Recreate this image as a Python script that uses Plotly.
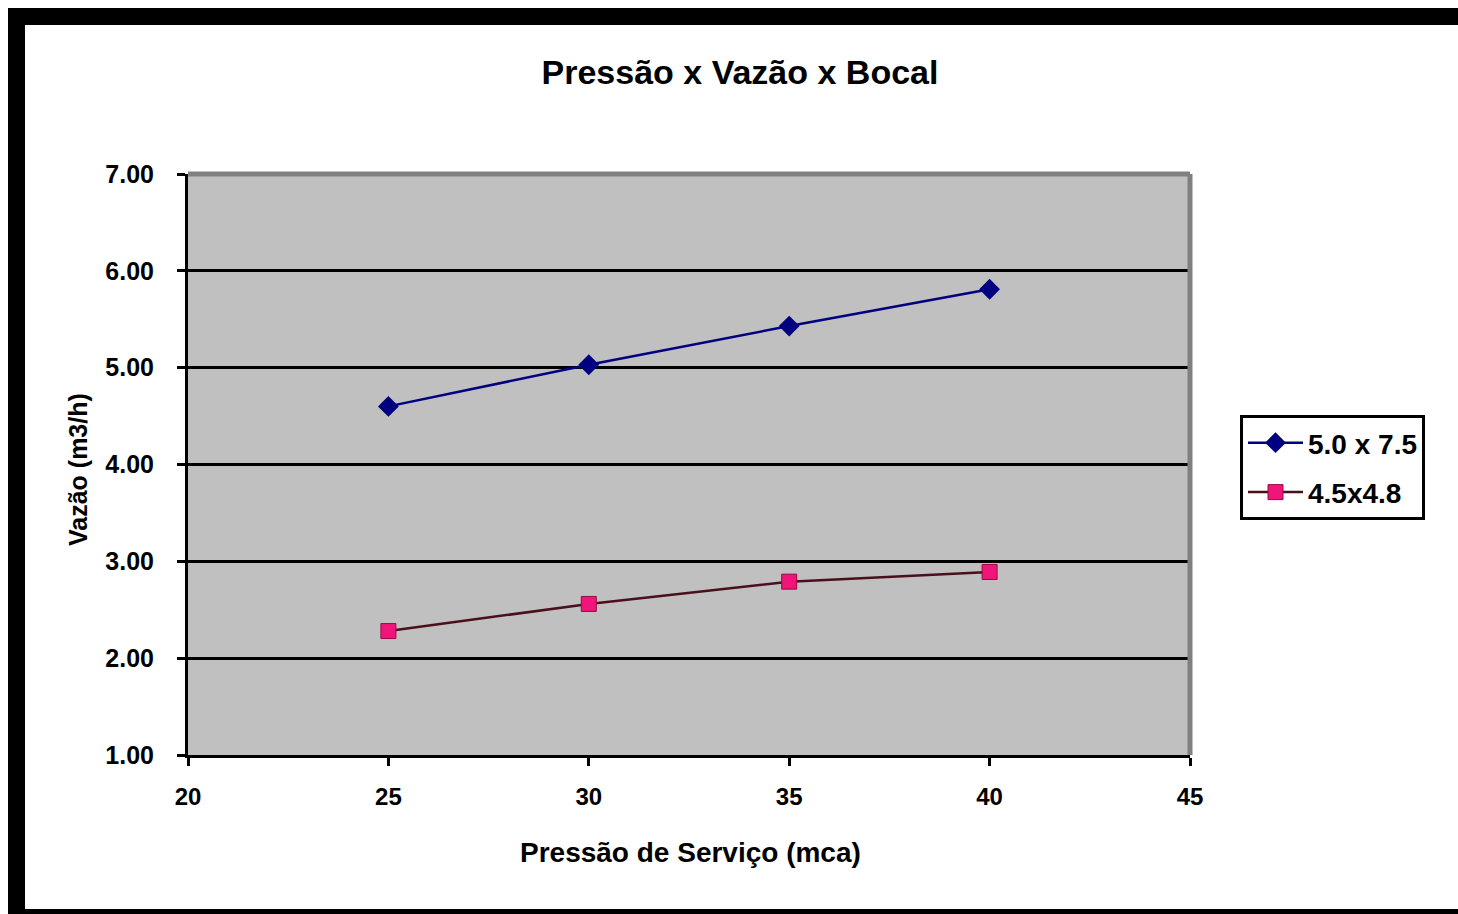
import plotly.graph_objects as go

pressao = [25, 30, 35, 40]
vazao_50x75 = [4.60, 5.03, 5.43, 5.81]
vazao_45x48 = [2.28, 2.56, 2.79, 2.89]
serie_nomes = ["5.0 x 7.5", "4.5x4.8"]
titulo = "Pressão x Vazão x Bocal"
titulo_x = "Pressão de Serviço (mca)"
titulo_y = "Vazão (m3/h)"

W, H = 1458, 914
L, R, T, B = 188, 1190, 174, 755

def px(x):
    return (x - L) / (R - L)

def py(y):
    return (B - y) / (B - T)

FONT = "Liberation Sans"

fig = go.Figure()
fig.add_trace(go.Scatter(
    x=pressao, y=vazao_50x75, name=serie_nomes[0], mode="lines+markers",
    legendgroup="a",
    line=dict(color="#000080", width=2.5),
    marker=dict(symbol="diamond", size=16, color="#000080"),
))
fig.add_trace(go.Scatter(
    x=pressao, y=vazao_45x48, name=serie_nomes[1], mode="lines+markers",
    legendgroup="b",
    line=dict(color="#4a0f1c", width=2.5),
    marker=dict(symbol="square", size=15, color="#F0157A",
                line=dict(color="#9a0a40", width=1)),
))

shapes = [
    dict(type="line", xref="paper", yref="paper", x0=0, x1=1.0, y0=1.0, y1=1.0,
         line=dict(color="#808080", width=5)),
    dict(type="line", xref="paper", yref="paper", x0=1.0, x1=1.0, y0=0, y1=1.0,
         line=dict(color="#808080", width=5)),
    dict(type="rect", xref="paper", yref="paper", x0=px(8), x1=px(1458), y0=py(8), y1=py(25),
         fillcolor="black", line=dict(width=0), layer="above"),
    dict(type="rect", xref="paper", yref="paper", x0=px(8), x1=px(25), y0=py(8), y1=py(914),
         fillcolor="black", line=dict(width=0), layer="above"),
    dict(type="rect", xref="paper", yref="paper", x0=px(8), x1=px(1458), y0=py(909), y1=py(914),
         fillcolor="black", line=dict(width=0), layer="above"),
]

annotations = [
    dict(text="<b>" + titulo_x + "</b>", xref="paper", yref="paper",
         x=px(690), y=py(853), xanchor="center", yanchor="middle",
         showarrow=False, font=dict(size=28, family=FONT, color="black")),
    dict(text="<b>" + titulo_y + "</b>", xref="paper", yref="paper",
         x=px(78), y=py(470), xanchor="center", yanchor="middle", textangle=-90,
         showarrow=False, font=dict(size=25, family=FONT, color="black")),
]

fig.update_layout(
    width=W, height=H,
    margin=dict(l=L, r=W - R, t=T, b=H - B, pad=0),
    paper_bgcolor="white",
    plot_bgcolor="#C0C0C0",
    font=dict(family=FONT, color="black", size=22),
    title=dict(text="<b>" + titulo + "</b>", x=px(740), xref="paper", xanchor="center",
               y=1 - 72 / H, yref="container", yanchor="middle",
               font=dict(size=34, family=FONT, color="black")),
    xaxis=dict(range=[20, 45], dtick=5, tick0=20, showgrid=False,
               showline=True, linecolor="black", linewidth=3,
               ticks="outside", ticklen=8, tickwidth=3, tickcolor="black",
               tickfont=dict(size=24, family=FONT + ", Arial", weight="bold"),
               ticklabelstandoff=10, zeroline=False),
    yaxis=dict(range=[1, 7], dtick=1, tick0=1, tickformat=".2f",
               showgrid=True, gridcolor="black", gridwidth=3,
               showline=True, linecolor="black", linewidth=3,
               ticks="outside", ticklen=8, tickwidth=3, tickcolor="black",
               tickfont=dict(size=25, family=FONT + ", Arial", weight="bold"),
               ticklabelstandoff=18, zeroline=False),
    legend=dict(x=px(1240), y=py(415), xanchor="left", yanchor="top",
                bgcolor="white", bordercolor="black", borderwidth=3,
                font=dict(size=28, weight="bold"), itemwidth=55, tracegroupgap=10),
    shapes=shapes,
    annotations=annotations,
    showlegend=True,
)

fig.write_html("out.html")
